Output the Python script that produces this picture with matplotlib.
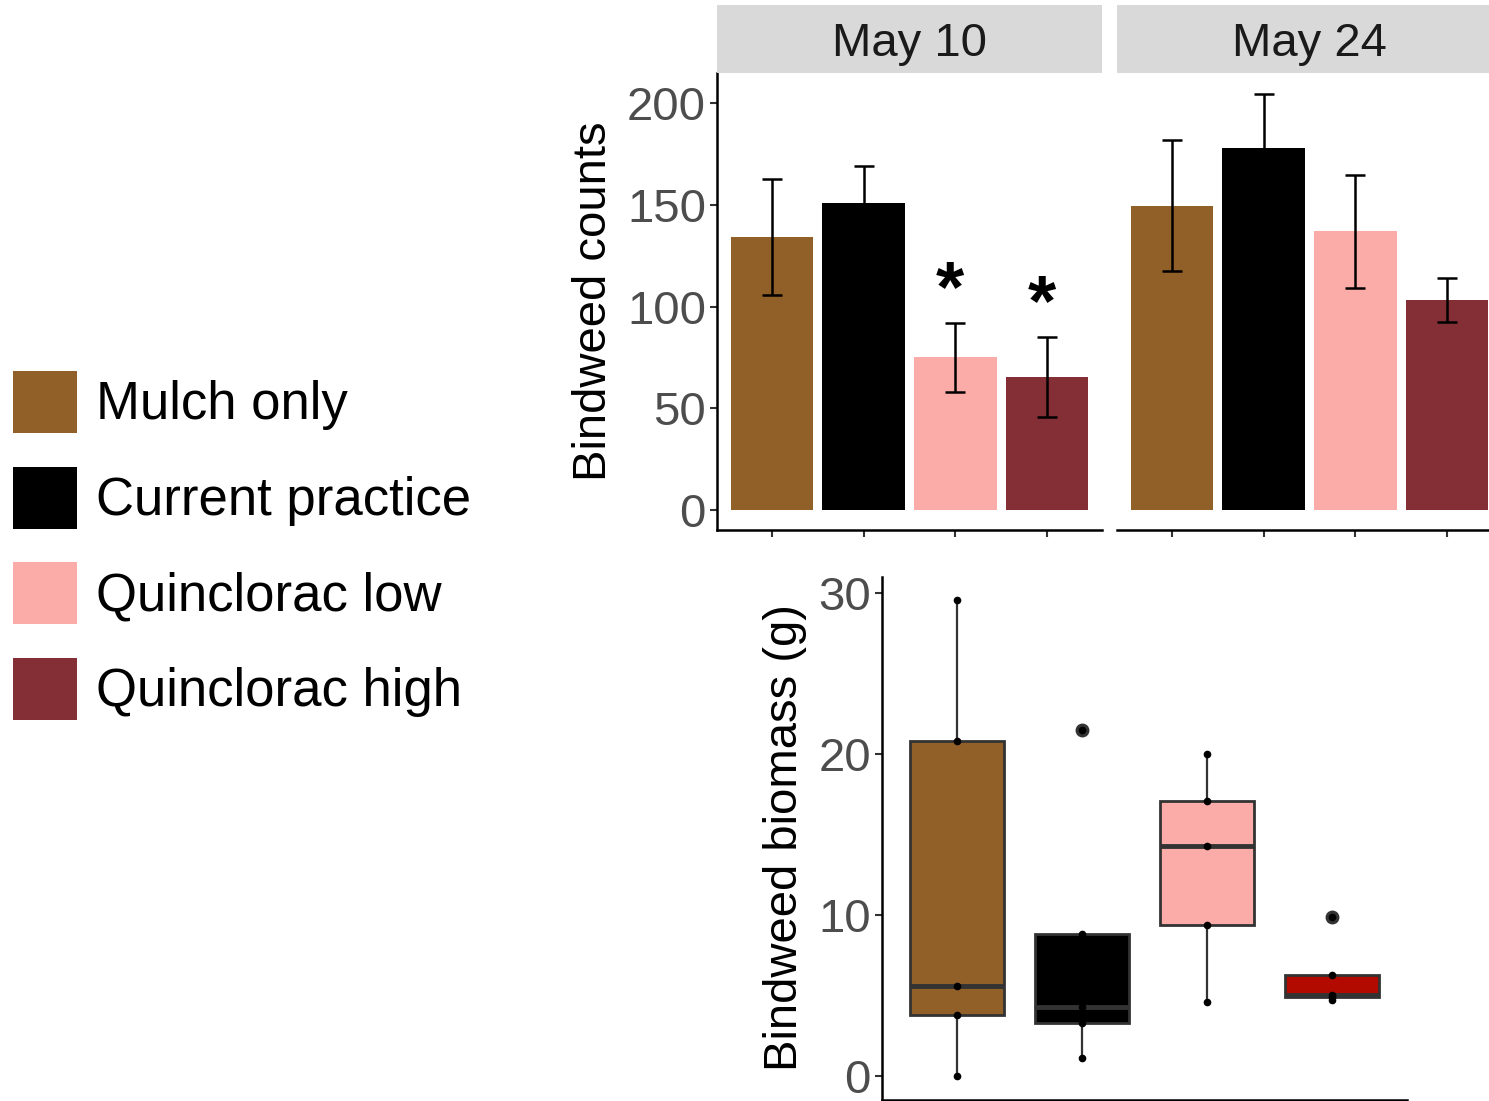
import numpy as np
import matplotlib
matplotlib.use("Agg")
import matplotlib.pyplot as plt
from matplotlib.patches import Rectangle

plt.rcParams['font.family'] = ['Liberation Sans', 'DejaVu Sans']

treatments = ["Mulch only", "Current practice", "Quinclorac low", "Quinclorac high"]
colors = ["#915F28", "#000000", "#FCACA8", "#832F35"]
box_colors = ["#915F28", "#000000", "#FCACA8", "#B30A00"]

dates = ["May 10", "May 24"]
counts_mean = {"May 10": [134.2, 150.8, 75.0, 65.3],
               "May 24": [149.7, 178.0, 137.0, 103.1]}
counts_se = {"May 10": [28.4, 18.4, 17.0, 19.9],
             "May 24": [32.4, 26.8, 27.8, 10.8]}
stars = {"May 10": ["", "", "*", "*"],
         "May 24": ["", "", "", ""]}

biomass = [
    [0.0, 3.8, 5.6, 20.8, 29.6],
    [1.1, 3.3, 4.3, 8.8, 21.5],
    [4.6, 9.4, 14.3, 17.1, 20.0],
    [4.7, 4.9, 5.0, 6.25, 9.9],
]

W, H = 1489, 1101
fig = plt.figure(figsize=(W / 100, H / 100), dpi=100)


def fx(px):
    return px / W


def fy(py):
    return 1 - py / H


tick_grey = "#4D4D4D"
x = np.arange(1, 5)

# top panels: bar charts faceted by date
panel_left = [717, 1117]
for i, d in enumerate(dates):
    ax = fig.add_axes([fx(panel_left[i]), fy(530), 385 / W, 457 / H])
    ax.bar(x, counts_mean[d], width=0.9, color=colors)
    ax.errorbar(x, counts_mean[d], yerr=counts_se[d], fmt="none",
                ecolor="black", elinewidth=1.8, capsize=7, capthick=1.8)
    for xi, m, s, st in zip(x, counts_mean[d], counts_se[d], stars[d]):
        if st:
            ax.text(xi - 0.06, m + s + 15, st, ha="center", va="center",
                    fontsize=52, fontweight="bold")
    ax.set_xlim(0.4, 4.6)
    ax.set_ylim(-10, 215)
    ax.set_xticks(x)
    ax.set_xticklabels([])
    ax.spines["top"].set_visible(False)
    ax.spines["right"].set_visible(False)
    for s in ["left", "bottom"]:
        ax.spines[s].set_linewidth(1.8)
    ax.tick_params(length=5, width=1.5, color="#333333")
    if i == 0:
        ax.set_yticks([0, 50, 100, 150, 200])
        ax.tick_params(axis="y", labelsize=34, labelcolor=tick_grey, pad=3)
    else:
        ax.spines["left"].set_visible(False)
        ax.tick_params(axis="y", left=False, labelleft=False)

    # facet strip
    sax = fig.add_axes([fx(panel_left[i]), fy(73), 385 / W, 68 / H])
    sax.set_facecolor("#D9D9D9")
    sax.set_xticks([])
    sax.set_yticks([])
    for s in sax.spines.values():
        s.set_visible(False)
    sax.text(0.5, 0.43, d, ha="center", va="center", fontsize=34,
             color="#1A1A1A", transform=sax.transAxes)

fig.text(fx(594), fy(301), "Bindweed counts", rotation=90, ha="center",
         va="center", fontsize=34)

# bottom panel: biomass boxplot
bx = fig.add_axes([fx(882), fy(1100), 525 / W, 523 / H])
bp = bx.boxplot(biomass, positions=x, widths=0.75, patch_artist=True,
                showcaps=False,
                medianprops=dict(color="#333333", linewidth=3.5),
                boxprops=dict(edgecolor="#333333", linewidth=2),
                whiskerprops=dict(color="#333333", linewidth=1.6),
                flierprops=dict(marker="o", markerfacecolor="#333333",
                                markeredgecolor="#333333", markersize=9))
for patch, c in zip(bp["boxes"], box_colors):
    patch.set_facecolor(c)
for xi, vals in zip(x, biomass):
    bx.plot([xi] * len(vals), vals, "o", color="black", markersize=4.5,
            zorder=5)
bx.set_xlim(0.4, 4.6)
bx.set_ylim(-1.5, 31.0)
bx.set_yticks([0, 10, 20, 30])
bx.set_xticks([])
bx.spines["top"].set_visible(False)
bx.spines["right"].set_visible(False)
for s in ["left", "bottom"]:
    bx.spines[s].set_linewidth(1.8)
bx.tick_params(axis="y", length=5, width=1.5, color="#333333",
               labelsize=34, labelcolor=tick_grey, pad=3)
fig.text(fx(785), fy(838), "Bindweed biomass (g)", rotation=90, ha="center",
         va="center", fontsize=34)

# legend
for k, (t, c) in enumerate(zip(treatments, colors)):
    top = 371 + k * 95.7
    fig.patches.append(Rectangle((fx(13), fy(top + 62)), 64 / W, 62 / H,
                                 facecolor=c, edgecolor="none",
                                 transform=fig.transFigure, figure=fig))
    fig.text(fx(96), fy(top + 34), t, ha="left", va="center", fontsize=38)

fig.savefig("out.png", dpi=100)
